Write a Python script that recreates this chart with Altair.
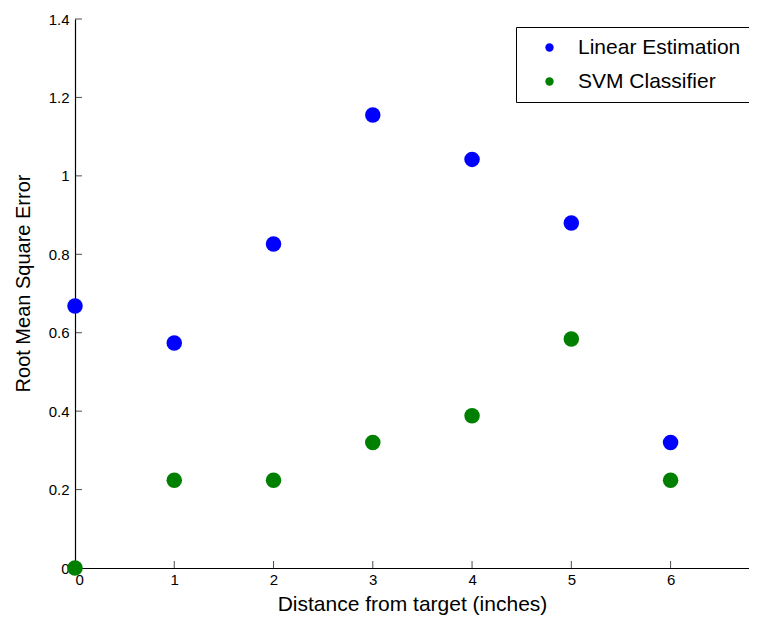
import altair as alt
import pandas as pd

# data
distance = [0, 1, 2, 3, 4, 5, 6]
linear_rmse = [0.668, 0.574, 0.826, 1.155, 1.042, 0.880, 0.320]
svm_rmse = [0.0, 0.224, 0.224, 0.320, 0.388, 0.584, 0.224]
series_names = ["Linear Estimation", "SVM Classifier"]
series_colors = ["#0000FF", "#008000"]
x_ticks = [0, 1, 2, 3, 4, 5, 6]
y_ticks = [0, 0.2, 0.4, 0.6, 0.8, 1.0, 1.2, 1.4]

rows = []
for d, v in zip(distance, linear_rmse):
    rows.append({"Distance": d, "RMSE": v, "Method": series_names[0]})
for d, v in zip(distance, svm_rmse):
    rows.append({"Distance": d, "RMSE": v, "Method": series_names[1]})
df = pd.DataFrame(rows)

FONT = "Liberation Sans"
xscale = alt.Scale(domain=[0, 6.79], nice=False, zero=False)
yscale = alt.Scale(domain=[0, 1.4], nice=False)

points = alt.Chart(df).mark_point(filled=True, size=240, opacity=1, clip=False, shape="circle").encode(
    x=alt.X("Distance:Q", scale=xscale,
            axis=alt.Axis(title="Distance from target (inches)", values=x_ticks, ticks=False,
                          grid=False, labelFontSize=15, titleFontSize=21, labelPadding=4,
                          titlePadding=6, format="~g")),
    y=alt.Y("RMSE:Q", scale=yscale,
            axis=alt.Axis(title="Root Mean Square Error", values=y_ticks, ticks=False,
                          grid=False, labelFontSize=15, titleFontSize=20, labelPadding=6,
                          titlePadding=15, titleY=264, format="~g")),
    color=alt.Color("Method:N", scale=alt.Scale(domain=series_names, range=series_colors),
                    legend=alt.Legend(title=None, orient="none", legendX=441, legendY=8,
                                      strokeColor="#000000", fillColor="#ffffff", padding=10,
                                      labelFontSize=21, labelFont=FONT, labelColor="#000000",
                                      symbolType="circle", symbolSize=70, symbolStrokeWidth=0,
                                      symbolOffset=13, labelOffset=18, rowPadding=12,
                                      labelLimit=400)),
)

xt = pd.DataFrame({"t": x_ticks})
yt = pd.DataFrame({"t": y_ticks})
xtick_marks = alt.Chart(xt).mark_tick(orient="vertical", size=7, thickness=1, color="#000000", yOffset=-3.5).encode(
    x=alt.X("t:Q", scale=xscale), y=alt.datum(0))
ytick_marks = alt.Chart(yt).mark_tick(orient="horizontal", size=7, thickness=1, color="#000000", xOffset=3.5).encode(
    y=alt.Y("t:Q", scale=yscale), x=alt.datum(0))

chart = alt.layer(xtick_marks, ytick_marks, points).properties(
    width=674, height=549,
    autosize=alt.AutoSizeParams(type="none"),
    padding={"left": 67, "top": 11, "right": 0, "bottom": 48},
    background="#ffffff",
).configure_view(stroke=None).configure_axis(
    labelFont=FONT, titleFont=FONT, labelColor="#000000", titleColor="#000000",
    domainColor="#000000", domainWidth=1.2, titleFontWeight="normal",
).configure_legend(labelFont=FONT)

chart.save("out.html", embed_options={"renderer": "svg", "actions": False})
